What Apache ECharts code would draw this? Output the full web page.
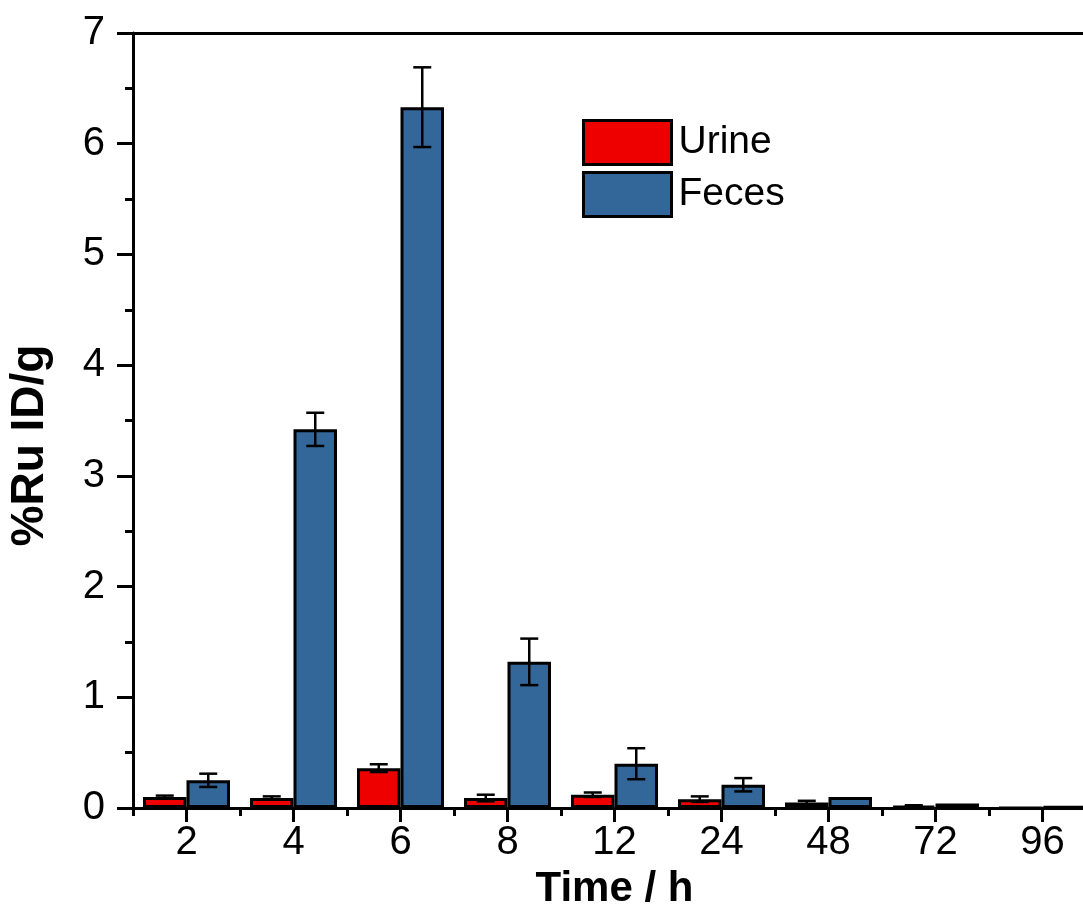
<!DOCTYPE html>
<html>
<head>
<meta charset="utf-8">
<script src="https://cdn.jsdelivr.net/npm/echarts@6/dist/echarts.min.js"></script>
<style>
  html, body { margin: 0; padding: 0; background: #fff; }
  #chart { width: 1083px; height: 909px; }
</style>
</head>
<body>
<div id="chart"></div>
<script>
var categories = ['2', '4', '6', '8', '12', '24', '48', '72', '96'];
var urine    = [0.10, 0.09, 0.36, 0.09, 0.12, 0.08, 0.05, 0.02, 0];
var urineErr = [0.012, 0.015, 0.035, 0.03, 0.02, 0.025, 0.015, 0.005, 0];
var feces    = [0.25, 3.42, 6.33, 1.32, 0.40, 0.21, 0.10, 0.04, 0.015];
var fecesErr = [0.06, 0.15, 0.36, 0.21, 0.14, 0.06, 0, 0, 0];

var gapRatio = 0.187;
var font = 'Liberation Sans, Arial, sans-serif';
var lw = 3;

function errData(vals, errs) {
    var out = [];
    for (var i = 0; i < vals.length; i++) {
        out.push([i, vals[i], errs[i]]);
    }
    return out;
}

function errRenderer(side) {
    return function (params, api) {
        var idx = api.value(0);
        var val = api.value(1);
        var err = api.value(2);
        if (!err) return;
        var band = api.size([1, 0])[0];
        var barW = band * (1 - gapRatio) / 2;
        var x = api.coord([idx, val])[0] + side * barW / 2;
        var hi = api.coord([idx, val + err])[1];
        var lo = api.coord([idx, val - err])[1];
        var cap = 9;
        var st = { stroke: '#000', lineWidth: 2.5 };
        return {
            type: 'group',
            children: [
                { type: 'line', shape: { x1: x, y1: hi, x2: x, y2: lo }, style: st },
                { type: 'line', shape: { x1: x - cap, y1: hi, x2: x + cap, y2: hi }, style: st },
                { type: 'line', shape: { x1: x - cap, y1: lo, x2: x + cap, y2: lo }, style: st }
            ]
        };
    };
}

var chart = echarts.init(document.getElementById('chart'));
var option = {
    backgroundColor: '#fff',
    animation: false,
    textStyle: { fontFamily: font },
    grid: { left: 133, top: 33, width: 963, height: 775, containLabel: false, outerBoundsMode: 'none' },
    legend: {
        orient: 'vertical',
        left: 577,
        top: 114,
        itemWidth: 88,
        itemHeight: 44,
        itemGap: 5,
        icon: 'rect',
        data: ['Urine', 'Feces'],
        itemStyle: { borderColor: '#000', borderWidth: 3 },
        textStyle: { fontSize: 39, color: '#000', fontFamily: font, padding: [0, 0, 0, 2] }
    },
    xAxis: [{
        type: 'category',
        data: categories,
        position: 'bottom',
        name: 'Time / h',
        nameLocation: 'middle',
        nameGap: 60,
        nameTextStyle: { fontSize: 42, fontWeight: 'bold', color: '#000', fontFamily: font },
        axisLine: { show: true, lineStyle: { color: '#000', width: lw } },
        axisTick: { show: true, alignWithLabel: true, length: 14, inside: false, lineStyle: { color: '#000', width: lw } },
        axisLabel: { fontSize: 40, color: '#000', margin: 15, fontFamily: font },
        splitLine: { show: false }
    }, {
        type: 'category',
        data: categories,
        position: 'bottom',
        axisLine: { show: false },
        axisTick: { show: true, alignWithLabel: false, length: 8, lineStyle: { color: '#000', width: lw } },
        axisLabel: { show: false },
        splitLine: { show: false }
    }, {
        type: 'category',
        data: categories,
        position: 'top',
        axisLine: { show: true, lineStyle: { color: '#000', width: lw } },
        axisTick: { show: false },
        axisLabel: { show: false },
        splitLine: { show: false }
    }],
    yAxis: {
        type: 'value',
        min: 0,
        max: 7,
        interval: 1,
        name: '%Ru ID/g',
        nameLocation: 'middle',
        nameGap: 80,
        nameTextStyle: { fontSize: 46, fontWeight: 'bold', color: '#000', fontFamily: font, padding: [0, 50, 0, 0] },
        axisLine: { show: true, lineStyle: { color: '#000', width: lw } },
        axisTick: { show: true, length: 16, inside: false, lineStyle: { color: '#000', width: lw } },
        minorTick: { show: true, splitNumber: 2, length: 8, lineStyle: { color: '#000', width: lw } },
        axisLabel: { fontSize: 40, color: '#000', margin: 28, fontFamily: font },
        splitLine: { show: false }
    },
    series: [{
        name: 'Urine',
        type: 'bar',
        data: urine,
        barGap: '0%',
        barCategoryGap: (gapRatio * 100) + '%',
        itemStyle: { color: '#ee0000', borderColor: '#000', borderWidth: 3 }
    }, {
        name: 'Feces',
        type: 'bar',
        data: feces,
        barGap: '0%',
        barCategoryGap: (gapRatio * 100) + '%',
        itemStyle: { color: '#336699', borderColor: '#000', borderWidth: 3 }
    }, {
        name: 'urineErr',
        type: 'custom',
        renderItem: errRenderer(-1),
        data: errData(urine, urineErr),
        encode: { x: 0, y: 1 },
        z: 5
    }, {
        name: 'fecesErr',
        type: 'custom',
        renderItem: errRenderer(1),
        data: errData(feces, fecesErr),
        encode: { x: 0, y: 1 },
        z: 5
    }]
};
chart.setOption(option);
</script>
</body>
</html>
